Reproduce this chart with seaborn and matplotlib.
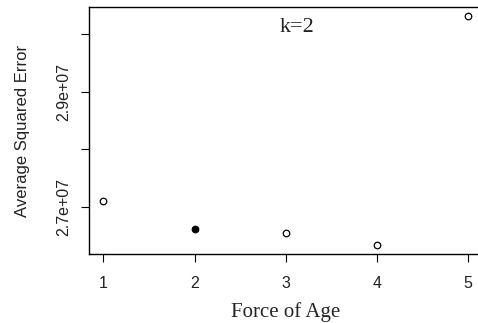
import numpy as np
import pandas as pd
import matplotlib
matplotlib.use("Agg")
import matplotlib.pyplot as plt
import seaborn as sns

# data
force = [1, 2, 3, 4, 5]
err = [2.7104e7, 2.6617e7, 2.6548e7, 2.6340e7, 3.0313e7]
chosen = 2  # filled point

df = pd.DataFrame({'force': force, 'err': err})

sns.set_style("white")
plt.rcParams['font.family'] = ['Liberation Sans', 'DejaVu Sans']

fig = plt.figure(figsize=(4.78, 3.23), dpi=100)
ax = fig.add_axes([0.186, 0.2136, 0.8235, 0.7644])

sns.scatterplot(data=df[df['force'] != chosen], x='force', y='err', ax=ax,
                marker='o', s=22, facecolor='white', edgecolor='black', linewidth=0.9)
sns.scatterplot(data=df[df['force'] == chosen], x='force', y='err', ax=ax,
                marker='o', s=22, color='black', edgecolor='black', linewidth=0.9)

# R-style 4% padding
xr = max(force) - min(force)
yr = max(err) - min(err)
ax.set_xlim(min(force) - 0.04 * xr, max(force) + 0.04 * xr)
ax.set_ylim(min(err) - 0.04 * yr, max(err) + 0.04 * yr)

ax.set_xticks(force)
ax.set_xticklabels([str(v) for v in force], fontsize=11.5, color='#222222')
ax.set_yticks([2.7e7, 2.8e7, 2.9e7, 3.0e7])
ax.set_yticklabels(['2.7e+07', '', '2.9e+07', ''], rotation=90, va='center',
                   fontsize=11.5, color='#222222')
ax.tick_params(axis='both', direction='out', length=5.8, width=0.8, color='black',
               left=True, bottom=True)
ax.tick_params(axis='x', pad=10)
ax.tick_params(axis='y', pad=7)

for s in ax.spines.values():
    s.set_color('black')
    s.set_linewidth(1.0)

ax.set_xlabel('Force of Age', family=['Liberation Serif'], fontsize=15, labelpad=8)
ax.set_ylabel('Average Squared Error', fontsize=12, labelpad=19, color='#222222')

ax.text(0.529, 0.919, 'k=2', transform=ax.transAxes, family=['Liberation Serif'],
        fontsize=16, ha='center', va='center', color='#222222')

fig.savefig('out.png', dpi=100)
